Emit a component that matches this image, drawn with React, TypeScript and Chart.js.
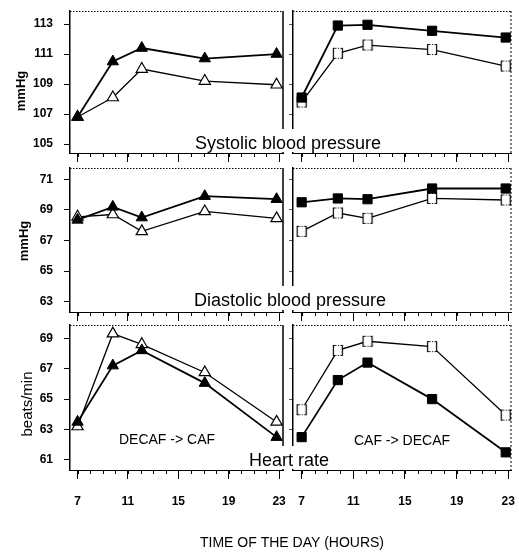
import React, { useEffect, useRef } from "react";
import { Chart, registerables } from "chart.js";

Chart.register(...registerables);

// ---------------- data ----------------
const hours = [7, 9.8, 12.1, 17.1, 22.8];
const xTickHours = [7, 11, 15, 19, 23];

// DECAF -> CAF (triangles): filled / open
const sbpDecafCafFilled = [106.8, 110.5, 111.4, 110.7, 111.0];
const sbpDecafCafOpen = [106.8, 108.1, 110.0, 109.2, 108.95];
// CAF -> DECAF (squares): filled / open
const sbpCafDecafFilled = [108.1, 112.9, 112.95, 112.55, 112.1];
const sbpCafDecafOpen = [107.8, 111.05, 111.6, 111.3, 110.2];

const dbpDecafCafFilled = [68.35, 69.2, 68.5, 69.9, 69.7];
const dbpDecafCafOpen = [68.55, 68.7, 67.6, 68.9, 68.45];
const dbpCafDecafFilled = [69.5, 69.75, 69.7, 70.4, 70.4];
const dbpCafDecafOpen = [67.6, 68.8, 68.45, 69.75, 69.65];

const hrDecafCafFilled = [63.5, 67.2, 68.2, 66.05, 62.5];
const hrDecafCafOpen = [63.2, 69.3, 68.6, 66.75, 63.5];
const hrCafDecafFilled = [62.5, 66.25, 67.4, 65.0, 61.5];
const hrCafDecafOpen = [64.3, 68.2, 68.8, 68.45, 63.95];

const sbpTicks = [105, 107, 109, 111, 113];
const dbpTicks = [63, 65, 67, 69, 71];
const hrTicks = [61, 63, 65, 67, 69];

const sbpRange = [104.4, 113.87];
const dbpRange = [62.33, 71.74];
const hrRange = [60.34, 69.87];

const xRangeLeft = [6.4, 23.31];
const xRangeRight = [6.33, 23.21];

// ---------------- layout ----------------
const W = 519;
const H = 554;
const XAXIS_H = 50;
const FONT = '"Liberation Sans", Arial, Helvetica, sans-serif';
const colX = [
  [70, 283],
  [293, 511],
];
const rowY = [
  [11, 153],
  [168, 312],
  [325, 470],
];

type TextSpec = {
  text: string;
  x: number;
  y: number;
  size: number;
  weight?: string;
  rotate?: boolean;
  bg?: boolean;
};

function makeOpenSquare(): HTMLCanvasElement {
  const c = document.createElement("canvas");
  c.width = 12;
  c.height = 13;
  const g = c.getContext("2d")!;
  g.fillStyle = "#fff";
  g.fillRect(1, 1, 10, 11);
  g.strokeStyle = "#000";
  g.lineWidth = 1.2;
  g.beginPath();
  g.moveTo(3.5, 1.5);
  g.lineTo(1.5, 1.5);
  g.lineTo(1.5, 11.5);
  g.lineTo(3.5, 11.5);
  g.moveTo(8.5, 1.5);
  g.lineTo(10.5, 1.5);
  g.lineTo(10.5, 11.5);
  g.lineTo(8.5, 11.5);
  g.stroke();
  g.setLineDash([1, 1.5]);
  g.lineWidth = 1;
  g.beginPath();
  g.moveTo(3.5, 1.5);
  g.lineTo(8.5, 1.5);
  g.moveTo(3.5, 11.5);
  g.lineTo(8.5, 11.5);
  g.stroke();
  return c;
}

function makeDeco(isLeft: boolean, texts: TextSpec[]) {
  return {
    id: "deco",
    afterDraw(chart: any) {
      const { ctx, chartArea: a } = chart;
      const xs = chart.scales.x;
      ctx.save();
      ctx.strokeStyle = "#000";
      // dotted top border
      ctx.lineWidth = 1;
      ctx.setLineDash([1.5, 1.5]);
      ctx.beginPath();
      ctx.moveTo(a.left, a.top + 0.5);
      ctx.lineTo(a.right, a.top + 0.5);
      ctx.stroke();
      // right border
      if (isLeft) {
        ctx.setLineDash([]);
        ctx.lineWidth = 1.5;
      } else {
        ctx.setLineDash([2, 2]);
        ctx.lineWidth = 1;
      }
      ctx.beginPath();
      ctx.moveTo(a.right, a.top);
      ctx.lineTo(a.right, a.bottom);
      ctx.stroke();
      ctx.setLineDash([]);
      // minor hour ticks
      ctx.lineWidth = 1;
      for (let h = Math.ceil(xs.min); h <= xs.max; h++) {
        const px = Math.round(xs.getPixelForValue(h)) + 0.5;
        ctx.beginPath();
        ctx.moveTo(px, a.bottom);
        ctx.lineTo(px, a.bottom + 4);
        ctx.stroke();
      }
      // texts
      for (const t of texts) {
        ctx.font = `${t.weight || "normal"} ${t.size}px ${FONT}`;
        ctx.textAlign = "center";
        ctx.textBaseline = "alphabetic";
        if (t.rotate) {
          ctx.save();
          ctx.translate(t.x, t.y);
          ctx.rotate(-Math.PI / 2);
          ctx.fillStyle = "#000";
          ctx.fillText(t.text, 0, 0);
          ctx.restore();
        } else {
          if (t.bg) {
            const w = ctx.measureText(t.text).width;
            ctx.fillStyle = "#fff";
            const top = t.y - t.size - 2;
            const bottom = Math.min(t.y + 4, a.bottom - 1);
            ctx.fillRect(t.x - w / 2 - 3, top, w + 6, bottom - top);
          }
          ctx.fillStyle = "#000";
          ctx.fillText(t.text, t.x, t.y);
        }
      }
      ctx.restore();
    },
  };
}

type PanelSpec = {
  row: number;
  col: number;
  filled: number[];
  open: number[];
  yTicks: number[];
  yRange: number[];
  texts: TextSpec[];
};

const panels: PanelSpec[] = [
  {
    row: 0, col: 0, filled: sbpDecafCafFilled, open: sbpDecafCafOpen, yTicks: sbpTicks, yRange: sbpRange,
    texts: [{ text: "mmHg", x: 25, y: 91, size: 13, weight: "bold", rotate: true }],
  },
  {
    row: 0, col: 1, filled: sbpCafDecafFilled, open: sbpCafDecafOpen, yTicks: sbpTicks, yRange: sbpRange,
    texts: [{ text: "Systolic blood pressure", x: 288, y: 149, size: 18, bg: true }],
  },
  {
    row: 1, col: 0, filled: dbpDecafCafFilled, open: dbpDecafCafOpen, yTicks: dbpTicks, yRange: dbpRange,
    texts: [{ text: "mmHg", x: 28, y: 241, size: 13, weight: "bold", rotate: true }],
  },
  {
    row: 1, col: 1, filled: dbpCafDecafFilled, open: dbpCafDecafOpen, yTicks: dbpTicks, yRange: dbpRange,
    texts: [{ text: "Diastolic blood pressure", x: 290, y: 306, size: 18, bg: true }],
  },
  {
    row: 2, col: 0, filled: hrDecafCafFilled, open: hrDecafCafOpen, yTicks: hrTicks, yRange: hrRange,
    texts: [
      { text: "beats/min", x: 31.5, y: 404, size: 15, rotate: true },
      { text: "DECAF -> CAF", x: 167, y: 443.5, size: 14 },
      { text: "TIME OF THE DAY (HOURS)", x: 292, y: 547, size: 14 },
    ],
  },
  {
    row: 2, col: 1, filled: hrCafDecafFilled, open: hrCafDecafOpen, yTicks: hrTicks, yRange: hrRange,
    texts: [
      { text: "CAF -> DECAF", x: 402, y: 445, size: 14 },
      { text: "Heart rate", x: 289, y: 466, size: 18, bg: true },
    ],
  },
];

function buildConfig(p: PanelSpec, openSquare: HTMLCanvasElement): any {
  const isLeft = p.col === 0;
  const [x0, x1] = colX[p.col];
  const [y0, y1] = rowY[p.row];
  const xr = isLeft ? xRangeLeft : xRangeRight;
  const showXLabels = p.row === 2;
  const toPts = (vals: number[]) => hours.map((h, i) => ({ x: h, y: vals[i] }));
  return {
    type: "line",
    data: {
      datasets: [
        {
          data: toPts(p.filled),
          borderColor: "#000",
          borderWidth: 1.8,
          backgroundColor: "#000",
          pointStyle: isLeft ? "triangle" : "rect",
          pointRadius: 6.5,
          pointBackgroundColor: "#000",
          pointBorderColor: "#000",
          pointBorderWidth: 1,
          tension: 0,
          clip: false,
        },
        {
          data: toPts(p.open),
          borderColor: "#000",
          borderWidth: 1.3,
          backgroundColor: "#fff",
          pointStyle: isLeft ? "triangle" : openSquare,
          pointRadius: 6.5,
          pointBackgroundColor: "#fff",
          pointBorderColor: "#000",
          pointBorderWidth: 1.2,
          tension: 0,
          clip: false,
        },
      ],
    },
    options: {
      responsive: false,
      animation: false,
      events: [],
      layout: {
        autoPadding: false,
        padding: { left: 0, top: y0, right: W - x1, bottom: H - y1 - XAXIS_H },
      },
      plugins: { legend: { display: false }, tooltip: { enabled: false } },
      scales: {
        x: {
          type: "linear",
          min: xr[0],
          max: xr[1],
          afterBuildTicks: (s: any) => {
            s.ticks = xTickHours.map((v) => ({ value: v }));
          },
          afterFit: (s: any) => {
            s.height = XAXIS_H;
            s.paddingLeft = 0;
            s.paddingRight = 0;
          },
          ticks: {
            display: showXLabels,
            autoSkip: false,
            maxRotation: 0,
            padding: 15,
            color: "#000",
            font: { family: FONT, size: 12, weight: "bold" },
            callback: (v: any) => String(v),
          },
          grid: { drawOnChartArea: false, drawTicks: true, tickLength: 9, tickColor: "#000", tickWidth: 1 },
          border: { display: true, color: "#000", width: 1 },
        },
        y: {
          type: "linear",
          min: p.yRange[0],
          max: p.yRange[1],
          afterBuildTicks: (s: any) => {
            s.ticks = p.yTicks.map((v) => ({ value: v }));
          },
          afterFit: (s: any) => {
            s.width = x0;
            s.paddingTop = 0;
            s.paddingBottom = 0;
          },
          ticks: {
            display: isLeft,
            padding: 11,
            color: "#000",
            font: { family: FONT, size: 12, weight: "bold" },
            callback: (v: any) => String(v),
          },
          grid: {
            drawOnChartArea: false,
            drawTicks: true,
            tickLength: isLeft ? 6 : 4,
            tickColor: isLeft ? "#000" : "#555",
            tickWidth: 1,
          },
          border: { display: true, color: "#000", width: 1.5 },
        },
      },
    },
    plugins: [makeDeco(isLeft, p.texts)],
  };
}

export default function App() {
  const refs = useRef<(HTMLCanvasElement | null)[]>([]);
  useEffect(() => {
    const openSquare = makeOpenSquare();
    const charts = panels.map((p, i) => new Chart(refs.current[i]!, buildConfig(p, openSquare)));
    return () => charts.forEach((c) => c.destroy());
  }, []);
  return (
    <div style={{ position: "absolute", left: 0, top: 0, width: W, height: H, background: "#fff" }}>
      {panels.map((p, i) => (
        <canvas
          key={i}
          ref={(el) => {
            refs.current[i] = el;
          }}
          width={W}
          height={H}
          style={{ position: "absolute", left: 0, top: 0 }}
        />
      ))}
    </div>
  );
}
